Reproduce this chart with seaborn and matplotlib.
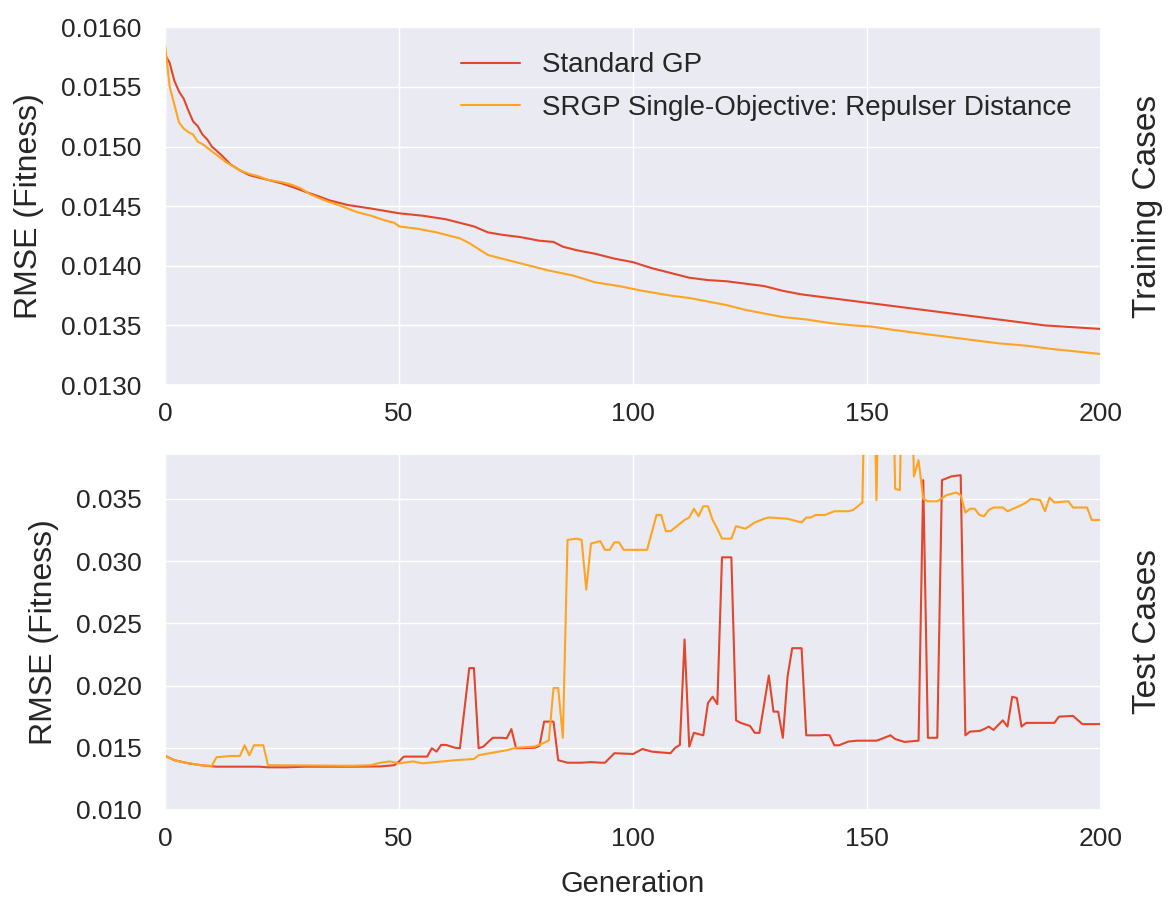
import matplotlib
matplotlib.use("Agg")
import matplotlib.pyplot as plt
import numpy as np
import pandas as pd
import seaborn as sns
from matplotlib.ticker import FormatStrFormatter

sns.set_theme(style="darkgrid")
plt.rcParams["font.family"] = ["Liberation Sans", "DejaVu Sans"]
plt.rcParams["axes.labelsize"] = 23
plt.rcParams["xtick.labelsize"] = 19
plt.rcParams["ytick.labelsize"] = 19
plt.rcParams["legend.fontsize"] = 20

labels = ["Standard GP", "SRGP Single-Objective: Repulser Distance"]
colors = ["#e2462c", "#ffa420"]

# training RMSE (top panel)
train_gp_gen = [0, 1, 2, 3, 4, 5, 6, 7, 8, 9, 10, 12, 14, 16, 18, 20, 22, 25, 28, 30,
                33, 35, 39, 44, 50, 55, 60, 63, 66, 69, 72, 76, 80, 83, 85, 88, 92, 96,
                100, 104, 108, 112, 116, 120, 124, 128, 132, 136, 140, 144, 148, 152,
                156, 160, 164, 168, 172, 176, 180, 184, 188, 192, 196, 200]
train_gp = [0.01577, 0.0157, 0.01555, 0.01546, 0.0154, 0.0153, 0.01521, 0.01517, 0.0151,
            0.01506, 0.0150, 0.01493, 0.01485, 0.0148, 0.01476, 0.01474, 0.01472,
            0.01469, 0.01465, 0.01462, 0.01458, 0.01455, 0.01451, 0.01448, 0.01444,
            0.01442, 0.01439, 0.01436, 0.01433, 0.01428, 0.01426, 0.01424, 0.01421,
            0.0142, 0.01416, 0.01413, 0.0141, 0.01406, 0.01403, 0.01398, 0.01394,
            0.0139, 0.01388, 0.01387, 0.01385, 0.01383, 0.01379, 0.01376, 0.01374,
            0.01372, 0.0137, 0.01368, 0.01366, 0.01364, 0.01362, 0.0136, 0.01358,
            0.01356, 0.01354, 0.01352, 0.0135, 0.01349, 0.01348, 0.01347]
train_srgp_gen = [0, 1, 2, 3, 4, 5, 6, 7, 8, 10, 13, 16, 18, 20, 22, 25, 27, 29, 31, 34,
                  37, 41, 44, 47, 49, 50, 54, 58, 61, 63, 65, 67, 69, 72, 77, 82, 87, 92,
                  97, 102, 108, 112, 116, 120, 124, 128, 132, 137, 142, 147, 151, 156,
                  160, 164, 168, 172, 178, 184, 190, 195, 200]
train_srgp = [0.01585, 0.0155, 0.01535, 0.0152, 0.01515, 0.01512, 0.0151, 0.01504,
              0.01502, 0.01496, 0.01487, 0.0148, 0.01477, 0.01475, 0.01472, 0.0147,
              0.01468, 0.01465, 0.0146, 0.01455, 0.01451, 0.01445, 0.01442, 0.01438,
              0.01436, 0.01433, 0.01431, 0.01428, 0.01425, 0.01423, 0.01419, 0.01414,
              0.01409, 0.01406, 0.01401, 0.01396, 0.01392, 0.01386, 0.01383, 0.01379,
              0.01375, 0.01373, 0.0137, 0.01367, 0.01363, 0.0136, 0.01357, 0.01355,
              0.01352, 0.0135, 0.01349, 0.01346, 0.01344, 0.01342, 0.0134, 0.01338,
              0.01335, 0.01333, 0.0133, 0.01328, 0.01326]

# test RMSE (bottom panel)
test_gp_gen = [0, 2, 5, 8, 11, 20, 22, 26, 30, 40, 46, 49, 50, 51, 55, 56, 57, 58, 59,
               60, 62, 63, 65, 66, 67, 68, 70, 72, 73, 74, 75, 79, 80, 81, 82, 83, 84, 86,
               89, 91, 93, 94, 96, 100, 102, 104, 108, 109, 110, 111, 112, 113, 115, 116,
               117, 118, 119, 121, 122, 123, 125, 126, 127, 129, 130, 131, 132, 133, 134,
               136, 137, 140, 141, 142, 143, 144, 146, 148, 152, 153, 155, 156, 158, 161,
               162, 163, 165, 166, 168, 170, 171, 172, 174, 175, 176, 177, 179, 180, 181,
               182, 183, 184, 190, 191, 194, 196, 200]
test_gp = [0.01435, 0.0140, 0.01375, 0.01358, 0.01348, 0.01348, 0.01343, 0.01343,
           0.01348, 0.01348, 0.0135, 0.0136, 0.0139, 0.01429, 0.01429, 0.01429, 0.01496,
           0.01469, 0.01523, 0.01523, 0.0150, 0.01496, 0.0214, 0.0214, 0.01496, 0.01509,
           0.0158, 0.0158, 0.01576, 0.0165, 0.01496, 0.0150, 0.01515, 0.0171, 0.0171,
           0.0171, 0.0140, 0.0138, 0.0138, 0.01385, 0.0138, 0.0138, 0.01456, 0.0145,
           0.0149, 0.01469, 0.01456, 0.0150, 0.01523, 0.0237, 0.01509, 0.0162, 0.0160,
           0.0186, 0.0191, 0.0185, 0.0303, 0.0303, 0.0172, 0.0170, 0.01675, 0.0162,
           0.0162, 0.0208, 0.0179, 0.0179, 0.0158, 0.0207, 0.0230, 0.0230, 0.0160,
           0.0160, 0.01603, 0.0160, 0.0152, 0.0152, 0.0155, 0.01557, 0.01557, 0.0157,
           0.0160, 0.0157, 0.01547, 0.01557, 0.0365, 0.0158, 0.0158, 0.0365, 0.0368,
           0.0369, 0.0160, 0.0163, 0.01635, 0.0165, 0.0167, 0.01643, 0.0172, 0.0167,
           0.0191, 0.0190, 0.0167, 0.0170, 0.0170, 0.0175, 0.01756, 0.0169, 0.0169]
test_srgp_gen = [0, 2, 5, 8, 10, 11, 14, 16, 17, 18, 19, 21, 22, 30, 40, 44, 46, 48, 50,
                 53, 55, 62, 66, 67, 70, 73, 75, 79, 81, 82, 83, 84, 85, 86, 88, 89, 90,
                 91, 93, 94, 95, 96, 97, 98, 103, 105, 106, 107, 108, 111, 112, 113, 114,
                 115, 116, 117, 118, 119, 121, 122, 124, 126, 128, 129, 133, 136, 137,
                 138, 139, 141, 143, 146, 147, 148, 149, 150, 151, 152, 153, 155, 156,
                 157, 158, 159, 160, 161, 162, 163, 165, 167, 169, 170, 171, 172, 173,
                 174, 175, 176, 177, 179, 180, 183, 184, 185, 187, 188, 189, 190, 193,
                 194, 197, 198, 200]
test_srgp = [0.01435, 0.0140, 0.01375, 0.01358, 0.01355, 0.01424, 0.01434, 0.01434,
             0.0152, 0.0144, 0.0152, 0.0152, 0.0136, 0.01358, 0.01355, 0.0136, 0.0138,
             0.0139, 0.01375, 0.0139, 0.01375, 0.0140, 0.0141, 0.0144, 0.0146, 0.0148,
             0.0150, 0.0151, 0.0154, 0.0156, 0.0198, 0.0198, 0.0158, 0.0317, 0.0318,
             0.0317, 0.0277, 0.0314, 0.0316, 0.0309, 0.0309, 0.0315, 0.0315, 0.0309,
             0.0309, 0.0337, 0.0337, 0.0324, 0.0324, 0.0333, 0.0335, 0.0342, 0.0336,
             0.0344, 0.0344, 0.0333, 0.0326, 0.0318, 0.0318, 0.0328, 0.0326, 0.0331,
             0.0334, 0.0335, 0.0334, 0.0331, 0.0335, 0.0335, 0.0337, 0.0337, 0.0340,
             0.0340, 0.0341, 0.0344, 0.0347, 0.055, 0.055, 0.0349, 0.055, 0.055, 0.0358,
             0.0357, 0.055, 0.055, 0.0368, 0.0381, 0.0350, 0.0348, 0.0348, 0.0353,
             0.0355, 0.0353, 0.0339, 0.0342, 0.0342, 0.0337, 0.0336, 0.0341, 0.0343,
             0.0343, 0.0340, 0.0345, 0.0347, 0.0350, 0.0349, 0.0340, 0.0351, 0.0347,
             0.0348, 0.0343, 0.0343, 0.0333, 0.0333]


def long_df(gens_a, vals_a, gens_b, vals_b):
    a = pd.DataFrame({"Generation": gens_a, "RMSE": vals_a, "method": labels[0]})
    b = pd.DataFrame({"Generation": gens_b, "RMSE": vals_b, "method": labels[1]})
    return pd.concat([a, b], ignore_index=True)


train_df = long_df(train_gp_gen, train_gp, train_srgp_gen, train_srgp)
test_df = long_df(test_gp_gen, test_gp, test_srgp_gen, test_srgp)

fig = plt.figure(figsize=(11.73, 8.99), dpi=100)
ax1 = fig.add_axes([0.1407, 0.5717, 0.798, 0.398])
ax2 = fig.add_axes([0.1407, 0.099, 0.798, 0.396])

sns.lineplot(data=train_df, x="Generation", y="RMSE", hue="method",
             palette=colors, linewidth=1.5, ax=ax1, sort=True)
sns.lineplot(data=test_df, x="Generation", y="RMSE", hue="method",
             palette=colors, linewidth=1.5, ax=ax2, sort=True, legend=False)

for ax in (ax1, ax2):
    ax.set_xlim(0, 200)
    ax.set_xticks([0, 50, 100, 150, 200])
    ax.set_ylabel("RMSE (Fitness)", labelpad=12)
    ax.tick_params(colors="#262626")
    ax.tick_params(axis="y", pad=11)
    ax.tick_params(axis="x", pad=6)

ax1.set_ylim(0.0130, 0.0160)
ax1.set_yticks(np.arange(0.0130, 0.01601, 0.0005))
ax1.yaxis.set_major_formatter(FormatStrFormatter("%.4f"))
ax1.set_xlabel("")

ax2.set_ylim(0.010, 0.0386)
ax2.set_yticks(np.arange(0.010, 0.0351, 0.005))
ax2.yaxis.set_major_formatter(FormatStrFormatter("%.3f"))
ax2.set_xlabel("Generation", fontsize=21, labelpad=14)

ax1.text(1.05, 0.5, "Training Cases", transform=ax1.transAxes, rotation=90,
         ha="center", va="center", fontsize=24, color="#262626")
ax2.text(1.05, 0.5, "Test Cases", transform=ax2.transAxes, rotation=90,
         ha="center", va="center", fontsize=24, color="#262626")

leg = ax1.legend(loc="upper left", bbox_to_anchor=(0.29, 1.0), frameon=False,
                 handlelength=2.1, handletextpad=0.8, labelspacing=0.6)
leg.set_title(None)

plt.savefig("out.png", dpi=100)
